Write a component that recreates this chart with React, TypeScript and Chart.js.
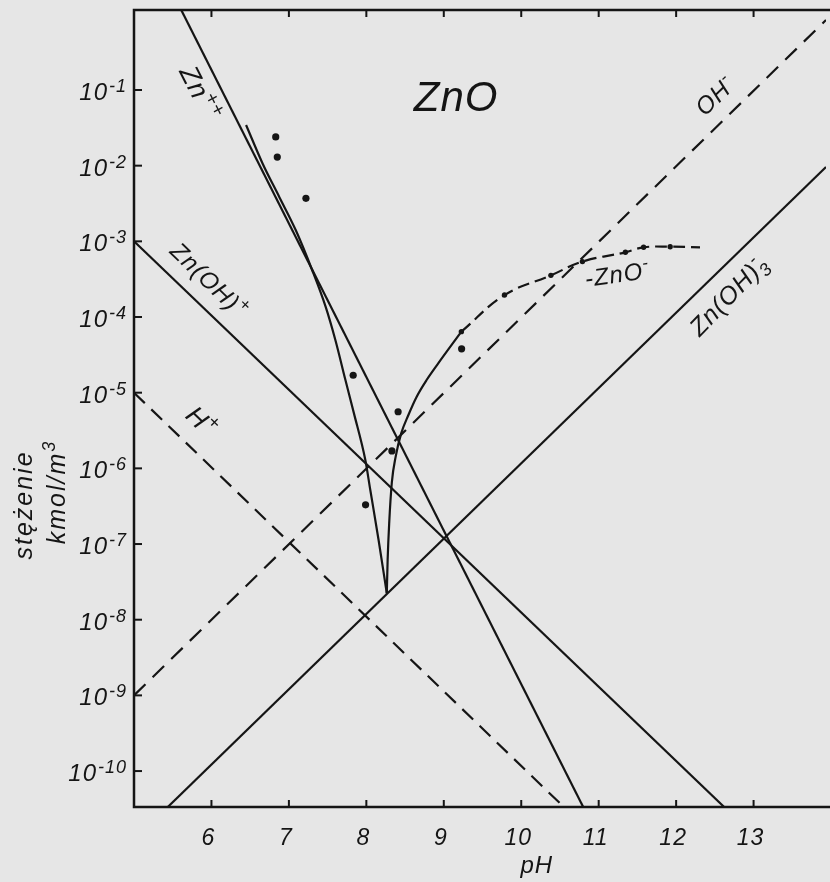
import { useEffect, useRef } from 'react';
import { Chart, registerables } from 'chart.js';

Chart.register(...registerables);

const INK = '#151515';
const PAPER = '#e6e6e6';
const FONT = '"Liberation Sans", "DejaVu Sans", sans-serif';

// ---- axes ----
const phMin = 5;
const phMax = 13.935;
const concMin = 3.35e-11;
const concMax = 1.14;
const xTickValues = [6, 7, 8, 9, 10, 11, 12, 13];
const xTickLabels = ['6', '7', '8', '9', '10', '11', '12', '13'];
const yTickValues = [1e-1, 1e-2, 1e-3, 1e-4, 1e-5, 1e-6, 1e-7, 1e-8, 1e-9, 1e-10];
const yTickExponents = ['-1', '-2', '-3', '-4', '-5', '-6', '-7', '-8', '-9', '-10'];

// ---- theoretical lines (end points) ----
const znPH = [5.61, 10.8];
const znConc = [1.14, 3.35e-11];
const znOHPH = [5.0, 12.62];
const znOHConc = [1e-3, 3.35e-11];
const znOH3PH = [5.436, 13.935];
const znOH3Conc = [3.35e-11, 9.6e-3];
const hPH = [5.0, 10.55];
const hConc = [1e-5, 3.35e-11];
const ohPH = [5.0, 13.935];
const ohConc = [1e-9, 0.84];

// ---- experimental curve ----
const leftBranchPH = [6.447, 6.66, 6.874, 7.088, 7.3, 7.474, 7.6, 7.73, 7.84, 7.987, 8.051, 8.158, 8.264];
const leftBranchConc = [3.44e-2, 1.07e-2, 3.89e-3, 1.41e-3, 4.18e-4, 1.37e-4, 4.97e-5, 1.47e-5, 5.33e-6, 1.29e-6, 5.18e-7, 1.13e-7, 2.23e-8];
const rightBranchPH = [8.264, 8.275, 8.295, 8.329, 8.38, 8.45, 8.543, 8.65, 8.778, 8.928, 9.227];
const rightBranchConc = [2.23e-8, 6.17e-8, 1.88e-7, 6.5e-7, 1.45e-6, 2.9e-6, 5.07e-6, 8.85e-6, 1.47e-5, 2.44e-5, 6.4e-5];
const zincatePH = [9.227, 9.784, 10.383, 10.79, 11.345, 11.58, 11.923, 12.308];
const zincateConc = [6.4e-5, 1.95e-4, 3.55e-4, 5.4e-4, 7.16e-4, 8.34e-4, 8.49e-4, 8.34e-4];
const zincateMarked = [true, true, true, true, true, true, true, false];

// ---- measured points ----
const measuredPH = [6.83, 6.85, 7.22, 7.83, 7.99, 8.33, 8.41, 9.23];
const measuredConc = [2.4e-2, 1.3e-2, 3.7e-3, 1.7e-5, 3.3e-7, 1.7e-6, 5.6e-6, 3.8e-5];

const pts = (xs: number[], ys: number[]) => xs.map((x, i) => ({ x, y: ys[i] }));

type Part = { t: string; k?: 'sup' | 'sub' | 'supOver' };
type Label = { parts: Part[]; ph: number; conc: number; angle: number; size: number; spacing?: number };

const labels: Label[] = [
  { parts: [{ t: 'ZnO' }], ph: 9.16, conc: 0.0834, angle: 0, size: 42, spacing: 1 },
  { parts: [{ t: 'Zn' }, { t: '++', k: 'sup' }], ph: 5.86, conc: 0.0912, angle: 63, size: 27, spacing: 1 },
  { parts: [{ t: 'Zn(OH)' }, { t: '+', k: 'sup' }], ph: 5.976, conc: 3.08e-4, angle: 44, size: 24, spacing: 1 },
  { parts: [{ t: 'H' }, { t: '+', k: 'sup' }], ph: 5.88, conc: 4.2e-6, angle: 44, size: 26, spacing: 1 },
  { parts: [{ t: 'OH' }, { t: '-', k: 'sup' }], ph: 12.5, conc: 0.085, angle: -44, size: 24, spacing: 1 },
  { parts: [{ t: '-ZnO' }, { t: '-', k: 'sup' }], ph: 11.24, conc: 3.72e-4, angle: -8, size: 24, spacing: 1 },
  { parts: [{ t: 'Zn(OH)' }, { t: '3', k: 'sub' }, { t: '-', k: 'supOver' }], ph: 12.67, conc: 1.95e-4, angle: -46, size: 25, spacing: 1 },
];

function drawRich(ctx: CanvasRenderingContext2D, parts: Part[], cx: number, cy: number, angleDeg: number, size: number, spacing = 0) {
  ctx.save();
  ctx.translate(cx, cy);
  ctx.rotate((angleDeg * Math.PI) / 180);
  const font = (s: number) => `italic ${s}px ${FONT}`;
  (ctx as any).letterSpacing = `${spacing}px`;
  let w = 0;
  let prevStart = 0;
  const layout: { t: string; s: number; x: number; dy: number }[] = [];
  for (const p of parts) {
    const s = p.k ? size * 0.72 : size;
    ctx.font = font(s);
    const pw = ctx.measureText(p.t).width;
    if (p.k === 'supOver') {
      layout.push({ t: p.t, s, x: prevStart, dy: -size * 0.42 });
      w = Math.max(w, prevStart + pw);
    } else {
      const dy = p.k === 'sup' ? -size * 0.42 : p.k === 'sub' ? size * 0.25 : 0;
      layout.push({ t: p.t, s, x: w, dy });
      prevStart = w;
      w += pw;
    }
  }
  ctx.fillStyle = INK;
  ctx.textAlign = 'left';
  ctx.textBaseline = 'alphabetic';
  for (const l of layout) {
    ctx.font = font(l.s);
    ctx.fillText(l.t, l.x - w / 2, size * 0.36 + l.dy);
  }
  ctx.restore();
}

const decorPlugin = {
  id: 'decor',
  afterDraw(chart: any) {
    const { ctx, chartArea: a } = chart;
    const x = chart.scales.x;
    const y = chart.scales.y;
    ctx.save();
    ctx.strokeStyle = INK;
    ctx.lineWidth = 2.5;
    ctx.beginPath();
    ctx.moveTo(a.right + 5, a.top);
    ctx.lineTo(a.left, a.top);
    ctx.lineTo(a.left, a.bottom);
    ctx.lineTo(a.right + 5, a.bottom);
    ctx.stroke();

    ctx.lineWidth = 2;
    ctx.fillStyle = INK;
    // x ticks
    xTickValues.forEach((v, i) => {
      const px = x.getPixelForValue(v);
      ctx.beginPath();
      ctx.moveTo(px, a.bottom);
      ctx.lineTo(px, a.bottom - 7);
      ctx.moveTo(px, a.top);
      ctx.lineTo(px, a.top + 7);
      ctx.stroke();
      ctx.font = `italic 23px ${FONT}`;
      ctx.textAlign = 'center';
      ctx.textBaseline = 'alphabetic';
      (ctx as any).letterSpacing = '1px';
      ctx.fillText(xTickLabels[i], px - 3, a.bottom + 38);
    });
    // y ticks
    yTickValues.forEach((v, i) => {
      const py = y.getPixelForValue(v);
      ctx.beginPath();
      ctx.moveTo(a.left, py);
      ctx.lineTo(a.left + 8, py);
      ctx.stroke();
      (ctx as any).letterSpacing = '1px';
      ctx.textAlign = 'right';
      ctx.textBaseline = 'alphabetic';
      ctx.font = `italic 18px ${FONT}`;
      const sw = ctx.measureText(yTickExponents[i]).width;
      const right = a.left - 7;
      ctx.fillText(yTickExponents[i], right, py + 2);
      ctx.font = `italic 24px ${FONT}`;
      ctx.fillText('10', right - sw - 1, py + 10);
    });
    ctx.restore();

    // axis titles
    drawRich(ctx, [{ t: 'pH' }], x.getPixelForValue(10.2), a.bottom + 57, 0, 24, 1);
    drawRich(ctx, [{ t: 'stężenie' }], 23, 505, -90, 25, 2);
    drawRich(ctx, [{ t: 'kmol/m' }, { t: '3', k: 'sup' }], 56, 492, -90, 25, 2);

    // curve labels
    for (const l of labels) {
      drawRich(ctx, l.parts, x.getPixelForValue(l.ph), y.getPixelForValue(l.conc), l.angle, l.size, l.spacing ?? 0);
    }
  },
};

export default function App() {
  const ref = useRef<HTMLCanvasElement | null>(null);
  useEffect(() => {
    if (!ref.current) return;
    const solid = { borderColor: INK, borderWidth: 2.2, pointRadius: 0, fill: false };
    const chart = new Chart(ref.current, {
      type: 'line',
      data: {
        datasets: [
          { label: 'Zn++', data: pts(znPH, znConc), ...solid },
          { label: 'Zn(OH)+', data: pts(znOHPH, znOHConc), ...solid },
          { label: 'Zn(OH)3-', data: pts(znOH3PH, znOH3Conc), ...solid },
          { label: 'H+', data: pts(hPH, hConc), ...solid, borderDash: [15, 9] },
          { label: 'OH-', data: pts(ohPH, ohConc), ...solid, borderDash: [16, 10] },
          { label: 'left branch', data: pts(leftBranchPH, leftBranchConc), ...solid, cubicInterpolationMode: 'monotone' },
          { label: 'right branch', data: pts(rightBranchPH, rightBranchConc), ...solid, cubicInterpolationMode: 'monotone' },
          {
            label: 'HZnO2-',
            data: pts(zincatePH, zincateConc),
            ...solid,
            borderDash: [12, 6],
            tension: 0.4,
            pointRadius: zincateMarked.map((m) => (m ? 2.7 : 0)),
            pointBackgroundColor: INK,
            pointBorderWidth: 0,
          },
          {
            label: 'measured',
            data: pts(measuredPH, measuredConc),
            showLine: false,
            pointRadius: 3.6,
            pointBackgroundColor: INK,
            pointBorderWidth: 0,
            borderColor: INK,
          },
        ] as any,
      },
      options: {
        responsive: false,
        animation: false,
        devicePixelRatio: 1,
        layout: { padding: { left: 134, top: 10, right: 0, bottom: 75 } },
        plugins: { legend: { display: false }, tooltip: { enabled: false } },
        scales: {
          x: { type: 'linear', min: phMin, max: phMax, display: false },
          y: { type: 'logarithmic', min: concMin, max: concMax, display: false },
        },
      },
      plugins: [decorPlugin],
    });
    return () => chart.destroy();
  }, []);
  return (
    <div style={{ position: 'fixed', left: 0, top: 0, width: 830, height: 882, background: PAPER, overflow: 'hidden' }}>
      <canvas ref={ref} width={830} height={882} style={{ display: 'block' }} />
    </div>
  );
}
